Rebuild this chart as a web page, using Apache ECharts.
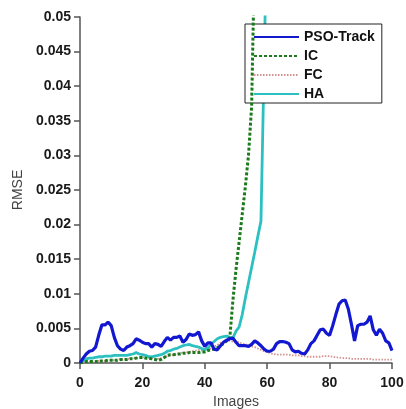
<!DOCTYPE html>
<html>
<head>
<meta charset="utf-8">
<script src="https://cdn.jsdelivr.net/npm/echarts@6/dist/echarts.min.js"></script>
<style>html,body{margin:0;padding:0;background:#fff;}#c{width:406px;height:409px;}</style>
</head>
<body>
<div id="c"></div>
<script>
var seriesNames = ['PSO-Track', 'IC', 'FC', 'HA'];
var yTicks = {min: 0, max: 0.05, interval: 0.005};
var xTicks = {min: 0, max: 100, interval: 20};

var psoTrack = [0,0.0007,0.0013,0.0017,0.0018,0.0023,0.0040,0.0055,0.0055,0.0059,
0.0054,0.0037,0.0025,0.0020,0.0018,0.0023,0.0025,0.0028,0.0035,0.0033,
0.0030,0.0028,0.0028,0.0023,0.0028,0.0027,0.0024,0.0031,0.0037,0.0033,
0.0037,0.0037,0.0039,0.0030,0.0034,0.0042,0.0040,0.0041,0.0045,0.0032,
0.0024,0.0029,0.0029,0.0020,0.0019,0.0025,0.0030,0.0033,0.0035,0.0036,
0.0030,0.0025,0.0025,0.0025,0.0024,0.0027,0.0032,0.0029,0.0025,0.0020,
0.0017,0.0017,0.0020,0.0028,0.0031,0.0031,0.0030,0.0028,0.0019,0.0016,
0.0017,0.0014,0.0013,0.0019,0.0028,0.0032,0.0040,0.0048,0.0049,0.0043,
0.0040,0.0054,0.0070,0.0085,0.0090,0.0091,0.0078,0.0056,0.0032,0.0054,
0.0056,0.0056,0.0059,0.0068,0.0048,0.0040,0.0049,0.0043,0.0032,0.0029,
0.0018];

var ic = [0,0.0001,0.0002,0.0002,0.0002,0.0002,0.0003,0.0003,0.0003,0.0004,
0.0004,0.0004,0.0004,0.0005,0.0005,0.0005,0.0006,0.0006,0.0007,0.0008,
0.0008,0.0007,0.0007,0.0006,0.0005,0.0004,0.0005,0.0008,0.0011,0.0012,
0.0012,0.0013,0.0013,0.0014,0.0014,0.0015,0.0015,0.0015,0.0015,0.0016,
0.0016,0.0018,0.0019,0.0020,0.0022,0.0025,0.0028,0.0032,0.0036,0.0090,
0.0135,0.0175,0.0215,0.0255,0.0300,0.0370,0.0600];

var fc = [0,0.0001,0.0001,0.0002,0.0002,0.0002,0.0003,0.0003,0.0003,0.0004,
0.0004,0.0004,0.0005,0.0005,0.0005,0.0006,0.0006,0.0007,0.0007,0.0008,
0.0008,0.0008,0.0007,0.0007,0.0006,0.0006,0.0007,0.0008,0.0010,0.0011,
0.0012,0.0013,0.0014,0.0015,0.0015,0.0016,0.0017,0.0018,0.0019,0.0018,
0.0017,0.0019,0.0021,0.0024,0.0026,0.0029,0.0031,0.0032,0.0032,0.0031,
0.0031,0.0030,0.0028,0.0027,0.0026,0.0024,0.0023,0.0021,0.0019,0.0017,
0.0016,0.0014,0.0013,0.0012,0.0012,0.0012,0.0012,0.0012,0.0011,0.0011,
0.0011,0.0010,0.0010,0.0009,0.0009,0.0009,0.0009,0.0009,0.0010,0.0010,
0.0010,0.0009,0.0008,0.0008,0.0007,0.0007,0.0007,0.0006,0.0006,0.0006,
0.0006,0.0006,0.0006,0.0006,0.0005,0.0005,0.0005,0.0005,0.0005,0.0005,
0.0005];

var ha = [0,0.0003,0.0006,0.0007,0.0007,0.0008,0.0009,0.0009,0.0010,0.0010,
0.0010,0.0011,0.0011,0.0011,0.0011,0.0011,0.0012,0.0013,0.0015,0.0013,
0.0012,0.0011,0.0009,0.0009,0.0010,0.0011,0.0012,0.0014,0.0017,0.0018,
0.0020,0.0021,0.0023,0.0025,0.0026,0.0027,0.0025,0.0024,0.0023,0.0021,
0.0019,0.0022,0.0027,0.0031,0.0035,0.0037,0.0038,0.0039,0.0037,0.0036,
0.0046,0.0052,0.0070,0.0094,0.0116,0.0138,0.0160,0.0183,0.0205,0.0430,
0.0650];

function pairs(arr) { return arr.map(function (v, i) { return [i, v]; }); }

var chart = echarts.init(document.getElementById('c'), null, {renderer: 'canvas'});
var axisLabelStyle = {color: '#1a1a1a', fontWeight: 'bold', fontSize: 14, fontFamily: 'Liberation Sans, Arial, sans-serif'};
chart.setOption({
  animation: false,
  backgroundColor: '#fff',
  grid: {left: 80, right: 14, top: 17, bottom: 46, containLabel: false, outerBoundsMode: 'none'},
  legend: {
    show: true,
    selectedMode: false,
    orient: 'vertical',
    left: 245, top: 24,
    padding: [6, 7, 2, 8],
    itemWidth: 45, itemHeight: 14, itemGap: 5,
    borderColor: '#222', borderWidth: 1, backgroundColor: '#fff',
    itemStyle: {opacity: 0},
    textStyle: {color: '#111', fontWeight: 'bold', fontSize: 14, fontFamily: 'Liberation Sans, Arial, sans-serif'},
    data: seriesNames
  },
  xAxis: {
    type: 'value', min: xTicks.min, max: xTicks.max, interval: xTicks.interval,
    name: 'Images', nameLocation: 'middle', nameGap: 32,
    nameTextStyle: {color: '#444', fontSize: 14, fontFamily: 'Liberation Sans, Arial, sans-serif'},
    axisLine: {show: true, lineStyle: {color: '#555', width: 1.5}},
    axisTick: {show: true, inside: false, length: 6, lineStyle: {color: '#555', width: 1.5}},
    axisLabel: Object.assign({margin: 13}, axisLabelStyle),
    splitLine: {show: false}
  },
  yAxis: {
    type: 'value', min: yTicks.min, max: yTicks.max, interval: yTicks.interval,
    name: 'RMSE', nameLocation: 'middle', nameGap: 55,
    nameTextStyle: {color: '#444', fontSize: 14, fontFamily: 'Liberation Sans, Arial, sans-serif'},
    axisLine: {show: true, lineStyle: {color: '#555', width: 1.5}},
    axisTick: {show: true, inside: false, length: 6, lineStyle: {color: '#555', width: 1.5}},
    axisLabel: Object.assign({margin: 9}, axisLabelStyle),
    splitLine: {show: false}
  },
  series: [
    {name: 'FC', type: 'line', data: pairs(fc), symbol: 'none', z: 2,
     lineStyle: {color: '#d49090', width: 1.8, type: [1.5, 1.5]}, itemStyle: {color: '#d49090'}},
    {name: 'HA', type: 'line', data: pairs(ha), symbol: 'none', z: 3,
     lineStyle: {color: '#2cc0c0', width: 2.8}, itemStyle: {color: '#2cc0c0'}},
    {name: 'IC', type: 'line', data: pairs(ic), symbol: 'none', z: 4,
     lineStyle: {color: '#1b7a1b', width: 3, type: [3, 2]}, itemStyle: {color: '#1b7a1b'}},
    {name: 'PSO-Track', type: 'line', data: pairs(psoTrack), symbol: 'none', z: 5,
     lineStyle: {color: '#1218d0', width: 3.2}, itemStyle: {color: '#1218d0'}}
  ]
});
</script>
</body>
</html>
